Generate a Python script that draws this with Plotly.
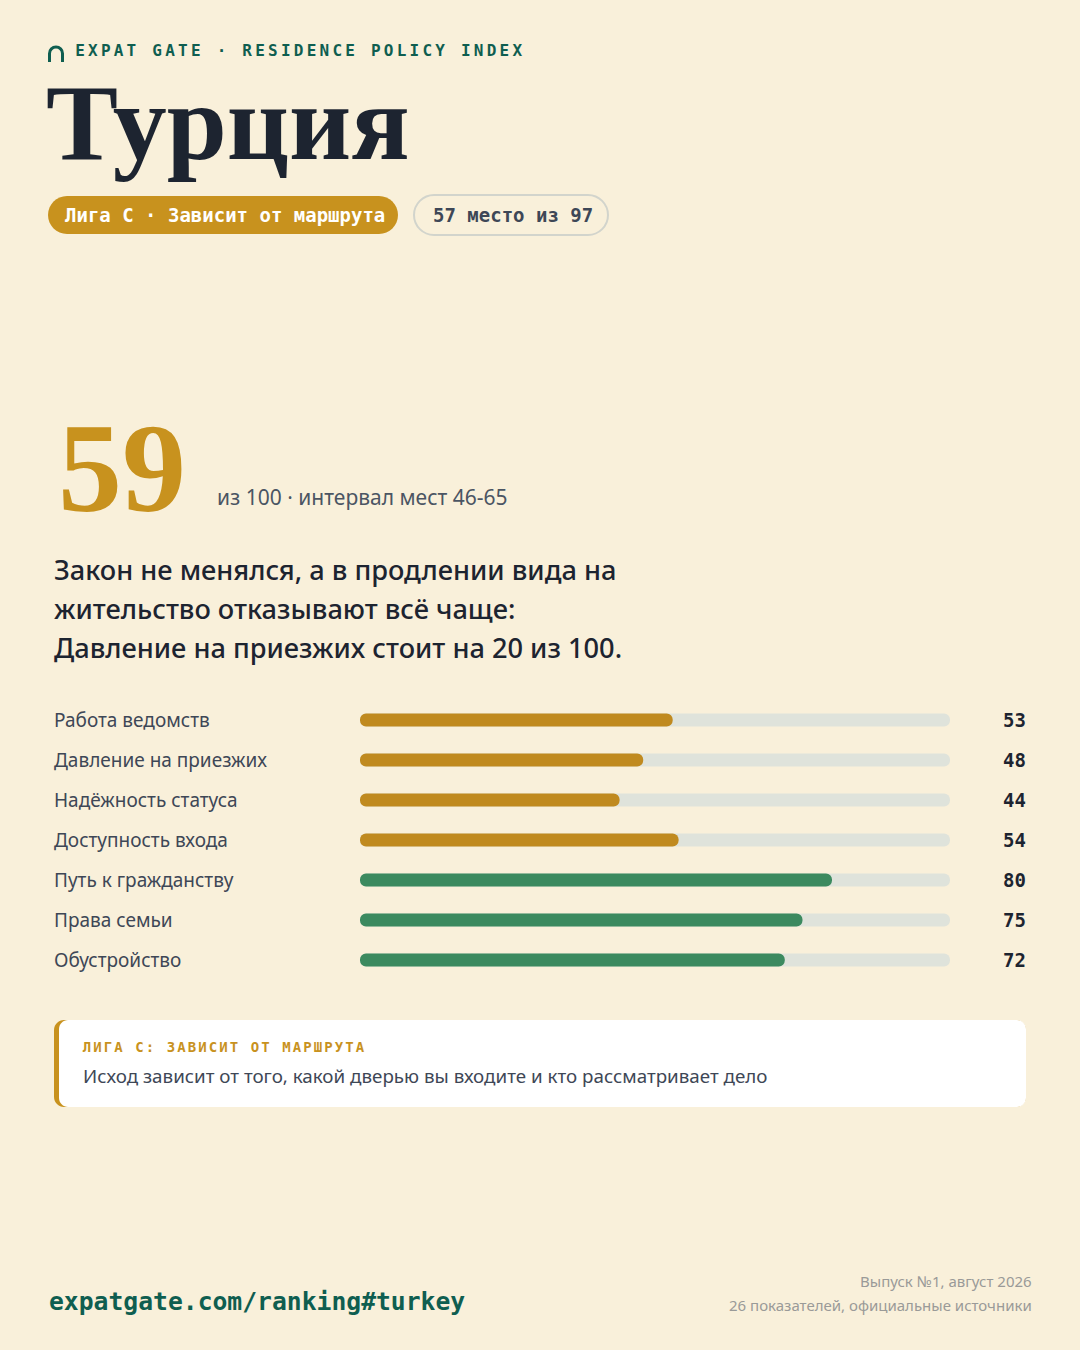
import plotly.graph_objects as go

# --- data ---
categories = ['Работа ведомств', 'Давление на приезжих', 'Надёжность статуса',
              'Доступность входа', 'Путь к гражданству', 'Права семьи', 'Обустройство']
scores = [53, 48, 44, 54, 80, 75, 72]
groups = ['gold', 'gold', 'gold', 'gold', 'green', 'green', 'green']
scale_max = 100

country = 'Турция'
total_score = '59'
league_badge = 'Лига C · Зависит от маршрута'
rank_badge = '57 место из 97'
score_note = 'из 100 · интервал мест 46-65'
headline = ['Закон не менялся, а в продлении вида на',
            'жительство отказывают всё чаще:',
            'Давление на приезжих стоит на 20 из 100.']
callout_title = 'ЛИГА С: ЗАВИСИТ ОТ МАРШРУТА'
callout_text = 'Исход зависит от того, какой дверью вы входите и кто рассматривает дело'
header = 'EXPAT GATE · RESIDENCE POLICY INDEX'
footer_url = 'expatgate.com/ranking#turkey'
footer_notes = ['Выпуск №1, август 2026', '26 показателей, официальные источники']

# --- style ---
W, H = 1080, 1350
BG = '#f9f0da'
TEAL = '#0f5e50'
GOLD = '#c8921e'
BAR_GOLD = '#c08a1f'
GREEN = '#3c8a5f'
TRACK = '#dfe3db'
INK = '#1d2430'
SLATE = '#3e4756'
MONO = 'DejaVu Sans Mono'
SANS = 'Noto Sans'
SERIF = 'Liberation Serif'
colors = {'gold': BAR_GOLD, 'green': GREEN}


def rrect(x0, y0, x1, y1, r):
    c = 0.5523 * r
    return (f'M{x0 + r},{y0} L{x1 - r},{y0} '
            f'C{x1 - r + c},{y0} {x1},{y0 + r - c} {x1},{y0 + r} '
            f'L{x1},{y1 - r} '
            f'C{x1},{y1 - r + c} {x1 - r + c},{y1} {x1 - r},{y1} '
            f'L{x0 + r},{y1} '
            f'C{x0 + r - c},{y1} {x0},{y1 - r + c} {x0},{y1 - r} '
            f'L{x0},{y0 + r} '
            f'C{x0},{y0 + r - c} {x0 + r - c},{y0} {x0 + r},{y0} Z')


def spaced(text, x0, pitch, y, size, color):
    # letter-spaced monospace text, one glyph per point
    xs = [x0 + i * pitch for i in range(len(text))]
    return go.Scatter(x=xs, y=[y] * len(text), mode='text', text=list(text),
                      textposition='middle center', hoverinfo='skip', showlegend=False,
                      textfont=dict(family=MONO, size=size, color=color, weight='bold'),
                      xaxis='x', yaxis='y')


def pill_bar(values, color, hover=True):
    # an explicit base makes plotly round both ends of the bar
    kw = dict(x=values, base=[0] * len(values), y=categories, orientation='h', width=0.33,
              marker=dict(color=color, cornerradius='50%', line_width=0),
              showlegend=False, xaxis='x2', yaxis='y2')
    if hover:
        kw.update(hovertemplate='%{y}: %{x}<extra></extra>')
    else:
        kw.update(hoverinfo='skip')
    return go.Bar(**kw)


fig = go.Figure()

# track + value bars
fig.add_trace(pill_bar([scale_max] * len(categories), TRACK, hover=False))
fig.add_trace(pill_bar(scores, [colors[g] for g in groups]))

# letter-spaced header and callout title
fig.add_trace(spaced(header, 80, 12.86, 52, 16, TEAL))
fig.add_trace(spaced(callout_title, 87, 10.5, 1048, 14, GOLD))

shapes = [
    # logo arch
    dict(type='path', xref='x', yref='y',
         path='M49.5,62 L49.5,53.5 C49.5,49.9 52.4,47 56,47 C59.6,47 62.5,49.9 62.5,53.5 L62.5,62',
         line=dict(color=TEAL, width=3)),
    # badges
    dict(type='path', xref='x', yref='y', path=rrect(48, 196, 398, 234, 19),
         fillcolor=GOLD, line_width=0, layer='below'),
    dict(type='path', xref='x', yref='y', path=rrect(414, 195, 608, 235, 20),
         fillcolor=BG, line=dict(color='#d2d4cc', width=2), layer='below'),
    # callout box
    dict(type='path', xref='x', yref='y', path=rrect(54, 1020, 1026, 1107, 10),
         fillcolor=GOLD, line_width=0, layer='below'),
    dict(type='path', xref='x', yref='y', path=rrect(59, 1020, 1026, 1107, 9),
         fillcolor='#ffffff', line_width=0, layer='below'),
]

ann = [
    dict(x=44, y=122, text=f'<b>{country}</b>', xanchor='left', yanchor='middle',
         font=dict(family=SERIF, size=108, color=INK)),
    dict(x=63, y=215, text=f'<b>{league_badge}</b>', xanchor='left', yanchor='middle',
         font=dict(family=MONO, size=19, color='#ffffff')),
    dict(x=431, y=215, text=f'<b>{rank_badge}</b>', xanchor='left', yanchor='middle',
         font=dict(family=MONO, size=19, color=SLATE)),
    dict(x=56, y=468, text=f'<b>{total_score}</b>', xanchor='left', yanchor='middle',
         font=dict(family=SERIF, size=128, color=GOLD)),
    dict(x=215, y=497, text=score_note, xanchor='left', yanchor='middle',
         font=dict(family=SANS, size=21, color='#4b5563')),
    dict(x=81, y=1076, text=callout_text, xanchor='left', yanchor='middle',
         font=dict(family=SANS, size=18.8, color=SLATE)),
    dict(x=47, y=1301, text=f'<b>{footer_url}</b>', xanchor='left', yanchor='middle',
         font=dict(family=MONO, size=24.7, color=TEAL)),
    dict(x=1034, y=1281, text=footer_notes[0], xanchor='right', yanchor='middle',
         font=dict(family=SANS, size=15, color='#9a9a98')),
    dict(x=1034, y=1305, text=footer_notes[1], xanchor='right', yanchor='middle',
         font=dict(family=SANS, size=15, color='#9a9a98')),
]
for i, line in enumerate(headline):
    ann.append(dict(x=52, y=569 + i * 39, text=line, xanchor='left', yanchor='middle',
                    font=dict(family=SANS, size=27.2, color=INK, weight=500)))
for a in ann:
    a.update(xref='x', yref='y', showarrow=False)

# row labels and values
for cat, val in zip(categories, scores):
    ann.append(dict(x=52 / W, y=cat, xref='paper', yref='y2', text=cat, showarrow=False,
                    xanchor='left', yanchor='middle',
                    font=dict(family=SANS, size=19, color=SLATE)))
    ann.append(dict(x=1028 / W, y=cat, xref='paper', yref='y2', text=f'<b>{val}</b>',
                    showarrow=False, xanchor='right', yanchor='middle',
                    font=dict(family=MONO, size=19, color=INK)))

fig.update_layout(
    width=W, height=H, margin=dict(l=0, r=0, t=0, b=0),
    paper_bgcolor=BG, plot_bgcolor='rgba(0,0,0,0)',
    barmode='overlay',
    xaxis=dict(range=[0, W], domain=[0, 1], visible=False, fixedrange=True),
    yaxis=dict(range=[H, 0], domain=[0, 1], visible=False, fixedrange=True),
    xaxis2=dict(range=[0, scale_max], domain=[360 / W, 950 / W], anchor='y2', visible=False),
    yaxis2=dict(type='category', categoryorder='array', categoryarray=categories,
                autorange='reversed', domain=[1 - 980 / H, 1 - 700 / H], anchor='x2',
                visible=False),
    shapes=shapes, annotations=ann, showlegend=False,
)

fig.write_html('out.html', config={'displayModeBar': False},
               post_script="document.body.style.margin='0';")
